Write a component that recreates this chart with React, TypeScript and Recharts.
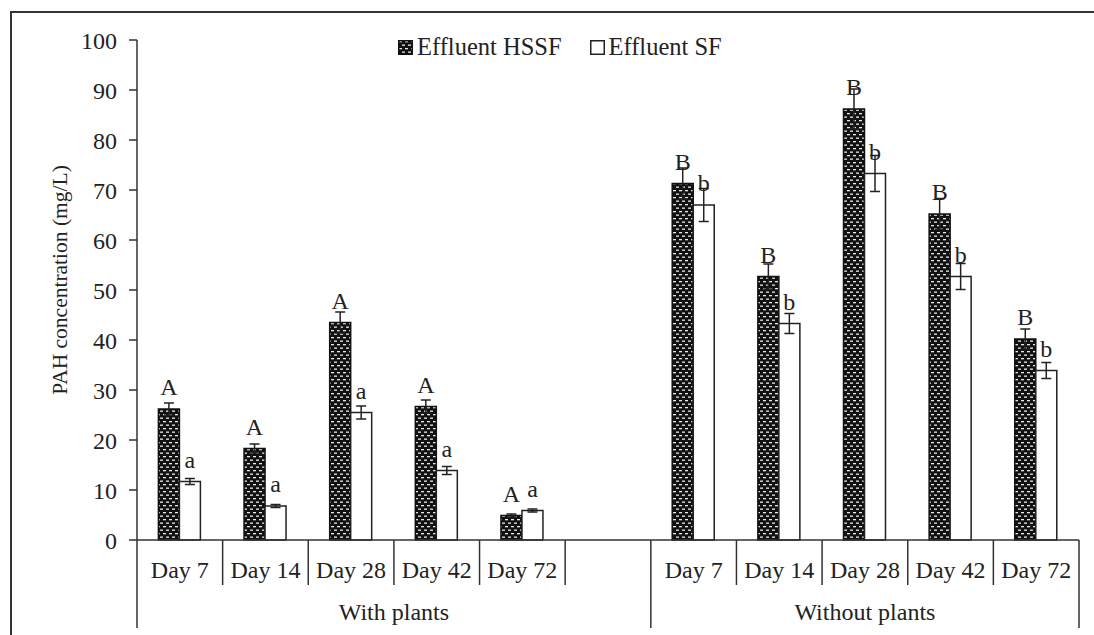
import React from "react";
import { Bar, BarChart, ErrorBar, LabelList, XAxis, YAxis } from "recharts";

const days = ["Day 7", "Day 14", "Day 28", "Day 42", "Day 72", "", "Day 7", "Day 14", "Day 28", "Day 42", "Day 72"];
const hssf = [26.2, 18.3, 43.5, 26.7, 4.9, null, 71.3, 52.7, 86.2, 65.2, 40.2];
const hssfErr = [1.2, 0.9, 2.1, 1.3, 0.3, null, 3.1, 2.5, 4.0, 3.1, 2.0];
const sf = [11.7, 6.8, 25.5, 13.9, 5.9, null, 67.0, 43.3, 73.3, 52.7, 33.9];
const sfErr = [0.6, 0.3, 1.3, 0.8, 0.3, null, 3.3, 2.0, 3.6, 2.6, 1.6];
const hssfTags = ["A", "A", "A", "A", "A", "", "B", "B", "B", "B", "B"];
const sfTags = ["a", "a", "a", "a", "a", "", "b", "b", "b", "b", "b"];
const yTicks = [0, 10, 20, 30, 40, 50, 60, 70, 80, 90, 100];
const groups = [
  { name: "With plants", from: 0, to: 5 },
  { name: "Without plants", from: 6, to: 10 },
];

const data = days.map((day, i) => ({
  day,
  hssf: hssf[i],
  hssfErr: hssfErr[i],
  sf: sf[i],
  sfErr: sfErr[i],
  hssfTag: hssfTags[i],
  sfTag: sfTags[i],
}));

const FONT = "'Liberation Serif', 'Times New Roman', serif";
const INK = "#222";
const LINE = "#333";

function DayTick(props: any) {
  const { x, y, payload } = props;
  const i = payload.index ?? props.index;
  const half = payload.offset ?? 0;
  const group = groups.find((g) => g.from === i);
  const isLast = i === days.length - 1;
  return (
    <g>
      <line x1={x - half} y1={y} x2={x - half} y2={y + (group ? 88 : 45)} stroke={LINE} strokeWidth={1.5} />
      {isLast && <line x1={x + half} y1={y} x2={x + half} y2={y + 88} stroke={LINE} strokeWidth={1.5} />}
      <text x={x} y={y + 38} textAnchor="middle" fill={INK} fontSize={24} fontFamily={FONT}>
        {payload.value}
      </text>
      {group && (
        <text
          x={x - half + (group.to - group.from + 1) * half}
          y={y + 80}
          textAnchor="middle"
          fill={INK}
          fontSize={24}
          fontFamily={FONT}
        >
          {group.name}
        </text>
      )}
    </g>
  );
}

function PatternDefs({ id }: { id: string }) {
  return (
    <defs>
      <pattern id={id} patternUnits="userSpaceOnUse" width={6} height={7}>
        <rect x={0} y={0} width={6} height={7} fill="#111" />
        <rect x={1} y={1} width={3} height={1.3} fill="#e8e8e8" />
        <rect x={4} y={4.5} width={2} height={1.3} fill="#e8e8e8" />
        <rect x={0} y={4.5} width={1} height={1.3} fill="#e8e8e8" />
      </pattern>
    </defs>
  );
}

export default function App() {
  return (
    <div style={{ position: "absolute", left: 0, top: 0, width: 1094, height: 635, background: "#fff", overflow: "hidden" }}>
      <div
        style={{
          position: "absolute",
          left: 10,
          top: 11,
          width: 1100,
          height: 700,
          borderTop: `2px solid ${LINE}`,
          borderLeft: `2px solid ${LINE}`,
        }}
      />
      <div
        style={{
          position: "absolute",
          left: 398,
          top: 33,
          display: "flex",
          alignItems: "center",
          fontFamily: FONT,
          fontSize: 24.5,
          color: INK,
          whiteSpace: "nowrap",
        }}
      >
        <svg width={15} height={15} style={{ marginRight: 4 }}>
          <PatternDefs id="legendPattern" />
          <rect x={0.75} y={0.75} width={13.5} height={13.5} fill="url(#legendPattern)" stroke="#111" strokeWidth={1.5} />
        </svg>
        <span>Effluent HSSF</span>
        <svg width={15} height={15} style={{ marginLeft: 28, marginRight: 4 }}>
          <rect x={0.75} y={0.75} width={13.5} height={13.5} fill="#fff" stroke="#222" strokeWidth={1.5} />
        </svg>
        <span>Effluent SF</span>
      </div>
      <div style={{ position: "absolute", left: 0, top: 0 }}>
        <BarChart
          width={1094}
          height={635}
          data={data}
          margin={{ top: 40, right: 15, bottom: 0, left: 57 }}
          barCategoryGap="25%"
          barGap={0}
        >
          <PatternDefs id="hssfPattern" />
          <XAxis
            dataKey="day"
            height={95}
            tickLine={false}
            tickSize={0}
            tickMargin={0}
            interval={0}
            axisLine={{ stroke: LINE, strokeWidth: 1.5 }}
            tick={<DayTick />}
          />
          <YAxis
            width={80}
            domain={[0, 100]}
            ticks={yTicks}
            interval={0}
            tickSize={8}
            tickMargin={12}
            axisLine={{ stroke: LINE, strokeWidth: 1.5 }}
            tickLine={{ stroke: LINE, strokeWidth: 1.5 }}
            tick={{ fill: INK, fontSize: 24, fontFamily: FONT }}
            label={{
              content: ({ viewBox }: any) => {
                const cx = viewBox.x + 3;
                const cy = viewBox.y + viewBox.height / 2 - 10;
                return (
                  <text
                    x={cx}
                    y={cy}
                    transform={`rotate(-90, ${cx}, ${cy})`}
                    textAnchor="middle"
                    dominantBaseline="central"
                    fill={INK}
                    fontSize={21.5}
                    fontFamily={FONT}
                  >
                    PAH concentration (mg/L)
                  </text>
                );
              },
            }}
          />
          <Bar dataKey="hssf" fill="url(#hssfPattern)" stroke="#111" strokeWidth={1.5} isAnimationActive={false}>
            <ErrorBar dataKey="hssfErr" width={5} stroke={INK} strokeWidth={1.5} direction="y" isAnimationActive={false} />
            <LabelList dataKey="hssfTag" position="top" offset={14} fill={INK} fontSize={24} fontFamily={FONT} />
          </Bar>
          <Bar dataKey="sf" fill="#fff" stroke="#222" strokeWidth={1.5} isAnimationActive={false}>
            <ErrorBar dataKey="sfErr" width={5} stroke={INK} strokeWidth={1.5} direction="y" isAnimationActive={false} />
            <LabelList dataKey="sfTag" position="top" offset={14} fill={INK} fontSize={24} fontFamily={FONT} />
          </Bar>
        </BarChart>
      </div>
    </div>
  );
}
